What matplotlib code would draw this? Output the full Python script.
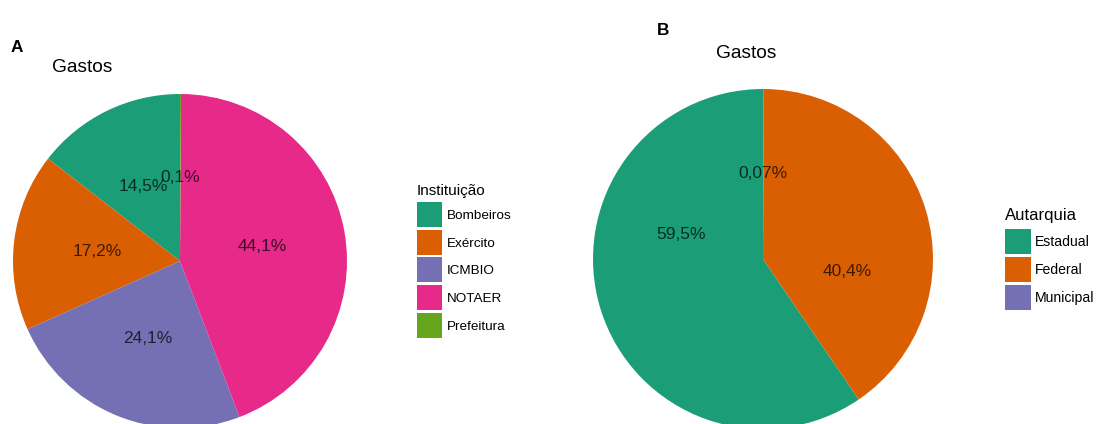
import numpy as np
import matplotlib
matplotlib.use("Agg")
import matplotlib.pyplot as plt
from matplotlib.patches import Rectangle

plt.rcParams['font.family'] = ['Liberation Sans', 'DejaVu Sans']

# ---- data -------------------------------------------------------------
inst_labels = ["Bombeiros", "Exército", "ICMBIO", "NOTAER", "Prefeitura"]
inst_share = [14.5, 17.2, 24.1, 44.1, 0.1]
inst_text = ["14,5%", "17,2%", "24,1%", "44,1%", "0,1%"]
inst_colors = ["#1B9E77", "#D95F02", "#7570B3", "#E7298A", "#66A61E"]

aut_labels = ["Estadual", "Federal", "Municipal"]
aut_share = [59.5, 40.4, 0.07]
aut_text = ["59,5%", "40,4%", "0,07%"]
aut_colors = ["#1B9E77", "#D95F02", "#7570B3"]
# where each percentage sits (fraction of a turn, counter-clockwise from 12 o'clock)
aut_label_turn = [0.204, 0.726, 0.0]

W, H = 1096, 424
fig = plt.figure(figsize=(W / 100, H / 100), dpi=100)
ax = fig.add_axes([0, 0, 1, 1])


def Y(py):
    """pixel row (from top) -> data y (from bottom)"""
    return H - py


def draw_pie(values, colors, texts, cx, cy, r, turns=None):
    vals = np.asarray(values, dtype=float)
    ax.pie(vals, colors=colors, startangle=90, counterclock=True,
           radius=r, center=(cx, Y(cy)), wedgeprops=dict(linewidth=0))
    if turns is None:
        frac = vals / vals.sum()
        turns = np.cumsum(frac) - frac / 2
    for t, s in zip(turns, texts):
        ang = np.deg2rad(90 + 360 * t)
        ax.text(cx + 0.5 * r * np.cos(ang), Y(cy) + 0.5 * r * np.sin(ang), s,
                ha='center', va='center', fontsize=12.5,
                color='black', alpha=0.72)


def draw_legend(title, labels, colors, x, title_base, key_top, key_w, key_h,
                pitch, text_x, title_size, label_size):
    ax.text(x, Y(title_base), title, ha='left', va='baseline',
            fontsize=title_size, color='black')
    for i, (lab, col) in enumerate(zip(labels, colors)):
        top = key_top + i * pitch
        ax.add_patch(Rectangle((x, Y(top + key_h)), key_w, key_h,
                               facecolor=col, edgecolor='none'))
        ax.text(text_x, Y(top + key_h / 2 + 4.6), lab, ha='left',
                va='baseline', fontsize=label_size, color='black')


# panel A
draw_pie(inst_share, inst_colors, inst_text, 180, 261, 167)
draw_legend("Instituição", inst_labels, inst_colors, 416.5, 194.5, 202,
            25.3, 25, 27.7, 446.5, 11, 9.7)
ax.text(11, Y(52.3), "A", fontsize=12.4, fontweight='bold', ha='left',
        va='baseline')
ax.text(52, Y(72.3), "Gastos", fontsize=13.8, ha='left', va='baseline')

# panel B
draw_pie(aut_share, aut_colors, aut_text, 763, 259, 170, turns=aut_label_turn)
draw_legend("Autarquia", aut_labels, aut_colors, 1004.5, 220.3, 229.3,
            26, 25, 28, 1034.5, 12, 10.1)
ax.text(656.5, Y(35), "B", fontsize=12.4, fontweight='bold', ha='left',
        va='baseline')
ax.text(716, Y(58.3), "Gastos", fontsize=13.8, ha='left', va='baseline')

ax.set_xlim(0, W)
ax.set_ylim(0, H)
ax.set_aspect('equal', adjustable='box')
ax.axis('off')

fig.savefig("out.png", dpi=100, facecolor='white')
